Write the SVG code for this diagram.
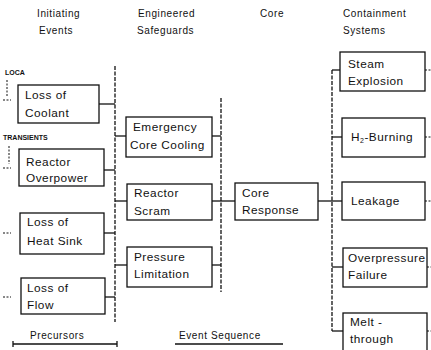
<svg xmlns="http://www.w3.org/2000/svg" width="431" height="350" viewBox="0 0 431 350">
<style>
.bx{fill:#fff;stroke:#111;stroke-width:1.3}
.t{font-family:"Liberation Sans",Arial,sans-serif;font-size:11.8px;fill:#111;letter-spacing:0.5px}
.h{font-family:"Liberation Sans",Arial,sans-serif;font-size:10px;fill:#111;letter-spacing:0.6px}
.s{font-family:"Liberation Sans",Arial,sans-serif;font-size:7px;font-weight:bold;fill:#111}
.ln{stroke:#111;stroke-width:1.3;fill:none}
.dl{stroke:#111;stroke-width:1.3;fill:none;stroke-dasharray:4 1.5}
.st{stroke:#111;stroke-width:1;fill:none;stroke-dasharray:2 1.5}
</style>
<rect width="431" height="350" fill="#fff"/>
<g id="headers">
<text class="h" x="37" y="17">Initiating</text>
<text class="h" x="39" y="34">Events</text>
<text class="h" x="138" y="17">Engineered</text>
<text class="h" x="137" y="34">Safeguards</text>
<text class="h" x="260" y="17">Core</text>
<text class="h" x="343" y="17">Containment</text>
<text class="h" x="343" y="34">Systems</text>
<text class="s" x="5" y="75">LOCA</text>
<text class="s" x="3" y="140">TRANSIENTS</text>
</g>
<g id="connectors">
<line class="dl" x1="115" y1="66" x2="115" y2="322"/>
<line class="ln" x1="99" y1="104" x2="115" y2="104"/>
<line class="ln" x1="104" y1="170" x2="115" y2="170"/>
<line class="ln" x1="104" y1="233" x2="115" y2="233"/>
<line class="ln" x1="105" y1="297" x2="115" y2="297"/>
<line class="ln" x1="115" y1="136" x2="126" y2="136"/>
<line class="ln" x1="115" y1="201" x2="127" y2="201"/>
<line class="ln" x1="115" y1="265" x2="127" y2="265"/>
<line class="dl" x1="221" y1="98" x2="221" y2="292"/>
<line class="ln" x1="212" y1="136" x2="221" y2="136"/>
<line class="ln" x1="212" y1="201" x2="235" y2="201"/>
<line class="ln" x1="212" y1="265" x2="221" y2="265"/>
<line class="ln" x1="318" y1="201" x2="342" y2="201"/>
<line class="dl" x1="332" y1="70" x2="332" y2="331"/>
<line class="ln" x1="332" y1="70" x2="340" y2="70"/>
<line class="ln" x1="332" y1="137" x2="342" y2="137"/>
<line class="ln" x1="332" y1="267" x2="343" y2="267"/>
<line class="ln" x1="332" y1="331" x2="343" y2="331"/>
<line class="st" x1="425" y1="70" x2="431" y2="70"/>
<line class="st" x1="425" y1="137" x2="431" y2="137"/>
<line class="st" x1="425" y1="201" x2="431" y2="201"/>
<line class="st" x1="427" y1="267" x2="431" y2="267"/>
<line class="st" x1="427" y1="331" x2="431" y2="331"/>
<line class="st" x1="3" y1="100" x2="11" y2="100"/>
<line class="st" x1="3" y1="168" x2="11" y2="168"/>
<line class="st" x1="3" y1="233" x2="11" y2="233"/>
<line class="st" x1="3" y1="297" x2="11" y2="297"/>
<line class="st" x1="7" y1="80" x2="7" y2="96"/>
<line class="st" x1="9" y1="146" x2="9" y2="164"/>
</g>
<g id="loss-of-coolant"><rect class="bx" x="18" y="85" width="81" height="38"/><text class="t" x="25" y="99">Loss of</text><text class="t" x="25" y="117">Coolant</text></g>
<g id="reactor-overpower"><rect class="bx" x="19" y="149" width="85" height="37"/><text class="t" x="26" y="166">Reactor</text><text class="t" x="26" y="182">Overpower</text></g>
<g id="loss-of-heat-sink"><rect class="bx" x="20" y="213" width="84" height="41"/><text class="t" x="27" y="226">Loss of</text><text class="t" x="27" y="245">Heat Sink</text></g>
<g id="loss-of-flow"><rect class="bx" x="21" y="278" width="84" height="36"/><text class="t" x="27" y="292">Loss of</text><text class="t" x="27" y="309">Flow</text></g>
<g id="emergency-core-cooling"><rect class="bx" x="126" y="117" width="86" height="40"/><text class="t" x="133" y="131">Emergency</text><text class="t" x="130" y="149" letter-spacing="0">Core Cooling</text></g>
<g id="reactor-scram"><rect class="bx" x="127" y="184" width="85" height="36"/><text class="t" x="134" y="197">Reactor</text><text class="t" x="134" y="215">Scram</text></g>
<g id="pressure-limitation"><rect class="bx" x="127" y="247" width="85" height="40"/><text class="t" x="134" y="261">Pressure</text><text class="t" x="134" y="278">Limitation</text></g>
<g id="core-response"><rect class="bx" x="235" y="183" width="83" height="37"/><text class="t" x="242" y="197">Core</text><text class="t" x="242" y="214">Response</text></g>
<g id="steam-explosion"><rect class="bx" x="340" y="52" width="85" height="39"/><text class="t" x="348" y="68">Steam</text><text class="t" x="348" y="85">Explosion</text></g>
<g id="h2-burning"><rect class="bx" x="342" y="118" width="83" height="39"/><text class="t" x="351" y="141">H<tspan font-size="7" dy="2">2</tspan><tspan dy="-2">-Burning</tspan></text></g>
<g id="leakage"><rect class="bx" x="342" y="182" width="83" height="38"/><text class="t" x="351" y="205">Leakage</text></g>
<g id="overpressure-failure"><rect class="bx" x="343" y="248" width="84" height="39"/><text class="t" x="348" y="262" letter-spacing="0.1">Overpressure</text><text class="t" x="348" y="279">Failure</text></g>
<g id="melt-through"><rect class="bx" x="343" y="313" width="84" height="45"/><text class="t" x="350" y="326">Melt -</text><text class="t" x="350" y="343">through</text></g>
<g id="footer">
<text class="h" x="30" y="339">Precursors</text>
<line class="ln" x1="13" y1="344" x2="117" y2="344"/>
<line class="ln" x1="13" y1="341" x2="13" y2="347"/>
<line class="ln" x1="117" y1="341" x2="117" y2="347"/>
<text class="h" x="179" y="339">Event Sequence</text>
<line class="ln" x1="175" y1="344" x2="283" y2="344"/>
</g>
</svg>
